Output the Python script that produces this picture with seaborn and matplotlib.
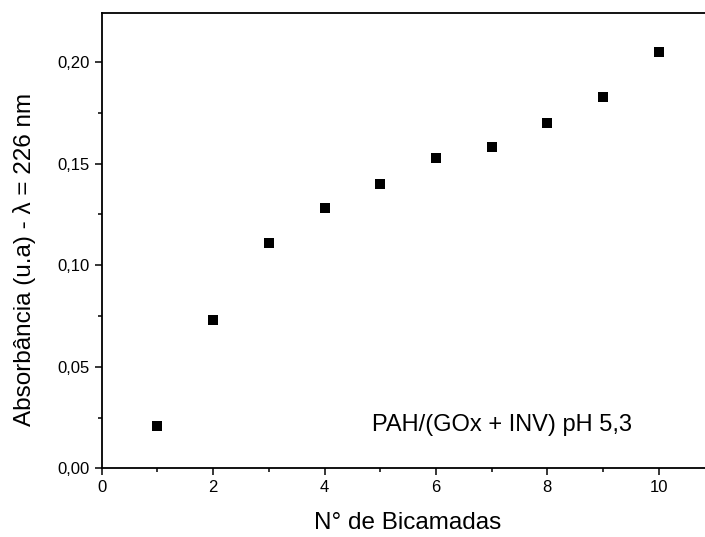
import pandas as pd
import matplotlib
matplotlib.use("Agg")
import matplotlib.pyplot as plt
from matplotlib.ticker import MultipleLocator, FixedLocator
import seaborn as sns

# Data
bicamadas = [1, 2, 3, 4, 5, 6, 7, 8, 9, 10]
absorbancia = [0.021, 0.073, 0.111, 0.128, 0.140, 0.153, 0.158, 0.170, 0.183, 0.205]

x_ticks = [0, 2, 4, 6, 8, 10]
x_tick_labels = ["0", "2", "4", "6", "8", "10"]
y_ticks = [0.00, 0.05, 0.10, 0.15, 0.20]
y_tick_labels = ["0,00", "0,05", "0,10", "0,15", "0,20"]

df = pd.DataFrame({"N": bicamadas, "Abs": absorbancia})

sns.set_style("ticks")
plt.rcParams["font.family"] = ["Liberation Sans", "DejaVu Sans"]
plt.rcParams["text.color"] = "black"
plt.rcParams["axes.labelcolor"] = "black"

fig = plt.figure(figsize=(7.05, 5.37), dpi=100)
ax = fig.add_axes([0.1443, 0.1279, 0.869, 0.8473])

sns.scatterplot(
    data=df,
    x="N",
    y="Abs",
    marker="s",
    s=48,
    color="black",
    edgecolor="black",
    linewidth=0,
    ax=ax
)

ax.set_xlim(0, 11)
ax.set_ylim(0, 0.224)

ax.xaxis.set_major_locator(FixedLocator(x_ticks))
ax.set_xticklabels(x_tick_labels)
ax.yaxis.set_major_locator(FixedLocator(y_ticks))
ax.set_yticklabels(y_tick_labels)
ax.xaxis.set_minor_locator(MultipleLocator(1))
ax.yaxis.set_minor_locator(MultipleLocator(0.025))

ax.tick_params(which="major", direction="out", length=5, width=1.1,
               labelsize=12, colors="black", labelcolor="black")
ax.tick_params(which="minor", direction="out", length=3, width=1.1, colors="black")

for side in ["left", "bottom", "top", "right"]:
    ax.spines[side].set_linewidth(1.3)
    ax.spines[side].set_color("black")
    ax.spines[side].set_visible(True)

ax.set_xlabel("N° de Bicamadas", fontsize=17.5, labelpad=12)
ax.set_ylabel("Absorbância (u.a) - λ = 226 nm", fontsize=17.5)
ax.yaxis.set_label_coords(-0.108, 0.458)

ax.text(4.85, 0.0215, "PAH/(GOx + INV) pH 5,3", fontsize=17, va="center", ha="left")

fig.savefig("out.png", dpi=100)
